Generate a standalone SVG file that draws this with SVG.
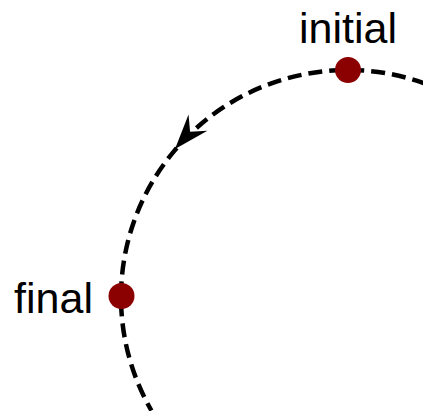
<svg xmlns="http://www.w3.org/2000/svg" width="423" height="411" viewBox="0 0 423 411">
<style>
.arc{fill:none;stroke:#000;stroke-width:4.5;stroke-dasharray:14 7}
.dot{fill:#8b0000}
.lbl{font-family:"Liberation Sans",Arial,sans-serif;font-size:43px;fill:#000}
</style>
<rect width="423" height="411" fill="#fff"/>
<g id="connectors">
<path class="arc" d="M 425.6 83.7 A 227 227 0 0 0 151.4 410.5"/>
<polygon points="0,0 -35,-12.5 -23,0 -35,12.5" fill="#000" transform="translate(175,149) rotate(131)"/>
</g>
<g id="initial">
<circle class="dot" cx="348" cy="70" r="13"/>
<text class="lbl" x="348" y="43" text-anchor="middle">initial</text>
</g>
<g id="final">
<circle class="dot" cx="121.5" cy="296" r="13"/>
<text class="lbl" x="93" y="313" text-anchor="end">final</text>
</g>
</svg>
